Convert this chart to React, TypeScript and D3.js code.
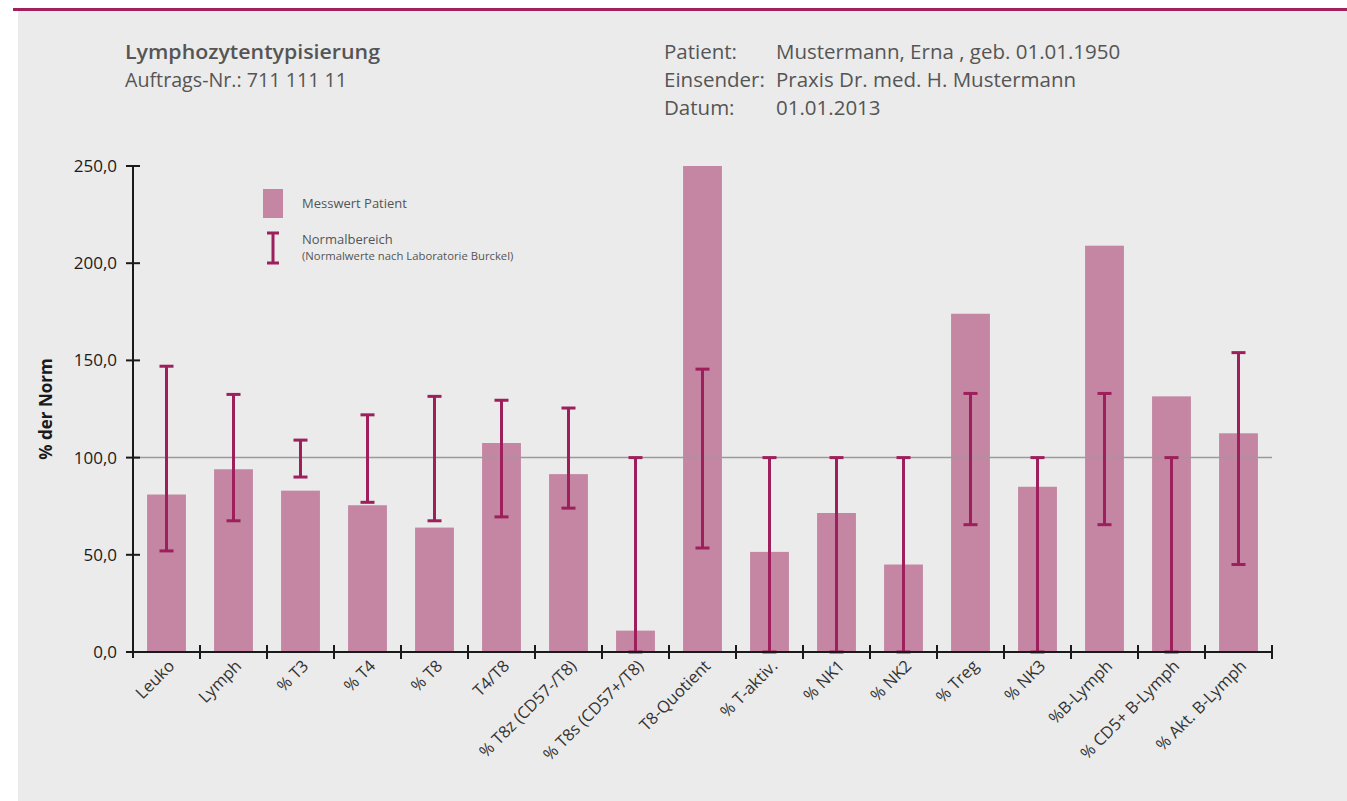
import * as React from "react";
import { scaleLinear, scaleBand } from "d3";

// Lymphozytentypisierung – Messwerte in % der Norm
const categories = [
  "Leuko",
  "Lymph",
  "% T3",
  "% T4",
  "% T8",
  "T4/T8",
  "% T8z (CD57-/T8)",
  "% T8s (CD57+/T8)",
  "T8-Quotient",
  "% T-aktiv.",
  "% NK1",
  "% NK2",
  "% Treg",
  "% NK3",
  "%B-Lymph",
  "% CD5+ B-Lymph",
  "% Akt. B-Lymph",
];
const values = [81, 94, 83, 75.5, 64, 107.5, 91.5, 11, 250, 51.5, 71.5, 45, 174, 85, 209, 131.5, 112.5];
const normLow = [52, 67.5, 90, 77, 67.5, 69.5, 74, 0, 53.5, 0, 0, 0, 65.5, 0, 65.5, 0, 45];
const normHigh = [147, 132.5, 109, 122, 131.5, 129.5, 125.5, 100, 145.5, 100, 100, 100, 133, 100, 133, 100, 154];
const yTicks = [0, 50, 100, 150, 200, 250];

const headerLeft = ["Lymphozytentypisierung", "Auftrags-Nr.: 711 111 11"];
const headerKeys = ["Patient:", "Einsender:", "Datum:"];
const headerVals = ["Mustermann, Erna , geb. 01.01.1950", "Praxis Dr. med. H. Mustermann", "01.01.2013"];

const W = 1347;
const H = 801;
const BAR = "#c486a3";
const NORM = "#9d1f5c";
const FONT = "'Open Sans', 'DejaVu Sans', sans-serif";

const App = () => {
  const plot = { left: 133, right: 1272, top: 166, bottom: 652 };

  const x = scaleBand<string>()
    .domain(categories)
    .range([plot.left, plot.right])
    .paddingInner(0.42)
    .paddingOuter(0.21);
  const y = scaleLinear().domain([0, 250]).range([plot.bottom, plot.top]);
  const step = x.step();
  const capW = 14;

  const fmt = (v: number) => v.toFixed(1).replace(".", ",");

  return (
    <div style={{ position: "absolute", left: 0, top: 0 }}>
      <svg width={W} height={H} style={{ display: "block", fontFamily: FONT }}>
        <rect x={0} y={0} width={W} height={H} fill="#ffffff" />
        <rect x={18} y={10} width={W - 18} height={H - 10} fill="#ebebeb" />
        <rect x={13} y={8} width={W - 13} height={3} fill="#a2205e" />

        {/* header */}
        <g fill="#555555" fontSize={20.5}>
          <text x={125} y={59} fontWeight={600} textLength={255} lengthAdjust="spacingAndGlyphs">
            {headerLeft[0]}
          </text>
          <text x={125} y={87} textLength={222} lengthAdjust="spacingAndGlyphs">
            {headerLeft[1]}
          </text>
          {headerKeys.map((k, i) => (
            <text key={k} x={664} y={59 + i * 28}>
              {k}
            </text>
          ))}
          {headerVals.map((v, i) => (
            <text key={v} x={776} y={59 + i * 28}>
              {v}
            </text>
          ))}
        </g>

        {/* legend */}
        <rect x={263} y={189} width={20} height={29} fill={BAR} />
        <g stroke={NORM} strokeWidth={3} fill="none">
          <line x1={273} x2={273} y1={233} y2={263} />
          <line x1={267} x2={279} y1={233} y2={233} />
          <line x1={267} x2={279} y1={263} y2={263} />
        </g>
        <g fill="#555555">
          <text x={302} y={208} fontSize={13}>Messwert Patient</text>
          <text x={302} y={244} fontSize={13}>Normalbereich</text>
          <text x={302} y={260} fontSize={11.3}>(Normalwerte nach Laboratorie Burckel)</text>
        </g>

        {/* bars */}
        {categories.map((c, i) => (
          <rect
            key={c}
            x={x(c)}
            y={y(values[i])}
            width={x.bandwidth()}
            height={y(0) - y(values[i])}
            fill={BAR}
          />
        ))}

        {/* reference line at 100 */}
        <line x1={plot.left} x2={plot.right} y1={y(100)} y2={y(100)} stroke="#9a9a9a" strokeWidth={1.5} />

        {/* normal ranges */}
        <g stroke={NORM} strokeWidth={3}>
          {categories.map((c, i) => {
            const cx = (x(c) ?? 0) + x.bandwidth() / 2;
            return (
              <g key={c}>
                <line x1={cx} x2={cx} y1={y(normHigh[i])} y2={y(normLow[i])} />
                <line x1={cx - capW / 2} x2={cx + capW / 2} y1={y(normHigh[i])} y2={y(normHigh[i])} />
                <line x1={cx - capW / 2} x2={cx + capW / 2} y1={y(normLow[i])} y2={y(normLow[i])} />
              </g>
            );
          })}
        </g>

        {/* y axis */}
        <g stroke="#1a1a1a" strokeWidth={2}>
          <line x1={plot.left} x2={plot.left} y1={plot.top} y2={plot.bottom + 6} />
          {yTicks.map((t) => (
            <line key={t} x1={plot.left - 7} x2={plot.left + 7} y1={y(t)} y2={y(t)} />
          ))}
        </g>
        <g fill="#1a1a1a" fontSize={17} textAnchor="end">
          {yTicks.map((t) => (
            <text key={t} x={117} y={y(t) + 6}>
              {fmt(t)}
            </text>
          ))}
        </g>
        <text
          transform={`translate(52,${(y(0) + y(250)) / 2}) rotate(-90)`}
          textAnchor="middle"
          fontSize={17}
          fontWeight={700}
          fill="#1a1a1a"
        >
          % der Norm
        </text>

        {/* x axis */}
        <g stroke="#1a1a1a" strokeWidth={2}>
          <line x1={plot.left} x2={plot.right} y1={plot.bottom} y2={plot.bottom} />
          {categories.map((c, i) => (
            <line key={c} x1={plot.left + (i + 1) * step} x2={plot.left + (i + 1) * step} y1={plot.bottom - 7} y2={plot.bottom + 7} />
          ))}
        </g>
        <g fill="#333333" fontSize={16.5} textAnchor="end">
          {categories.map((c) => {
            const cx = (x(c) ?? 0) + x.bandwidth() / 2 + 9;
            return (
              <text key={c} transform={`translate(${cx},${plot.bottom + 15}) rotate(-45)`}>
                {c}
              </text>
            );
          })}
        </g>
      </svg>
    </div>
  );
};

export default App;
